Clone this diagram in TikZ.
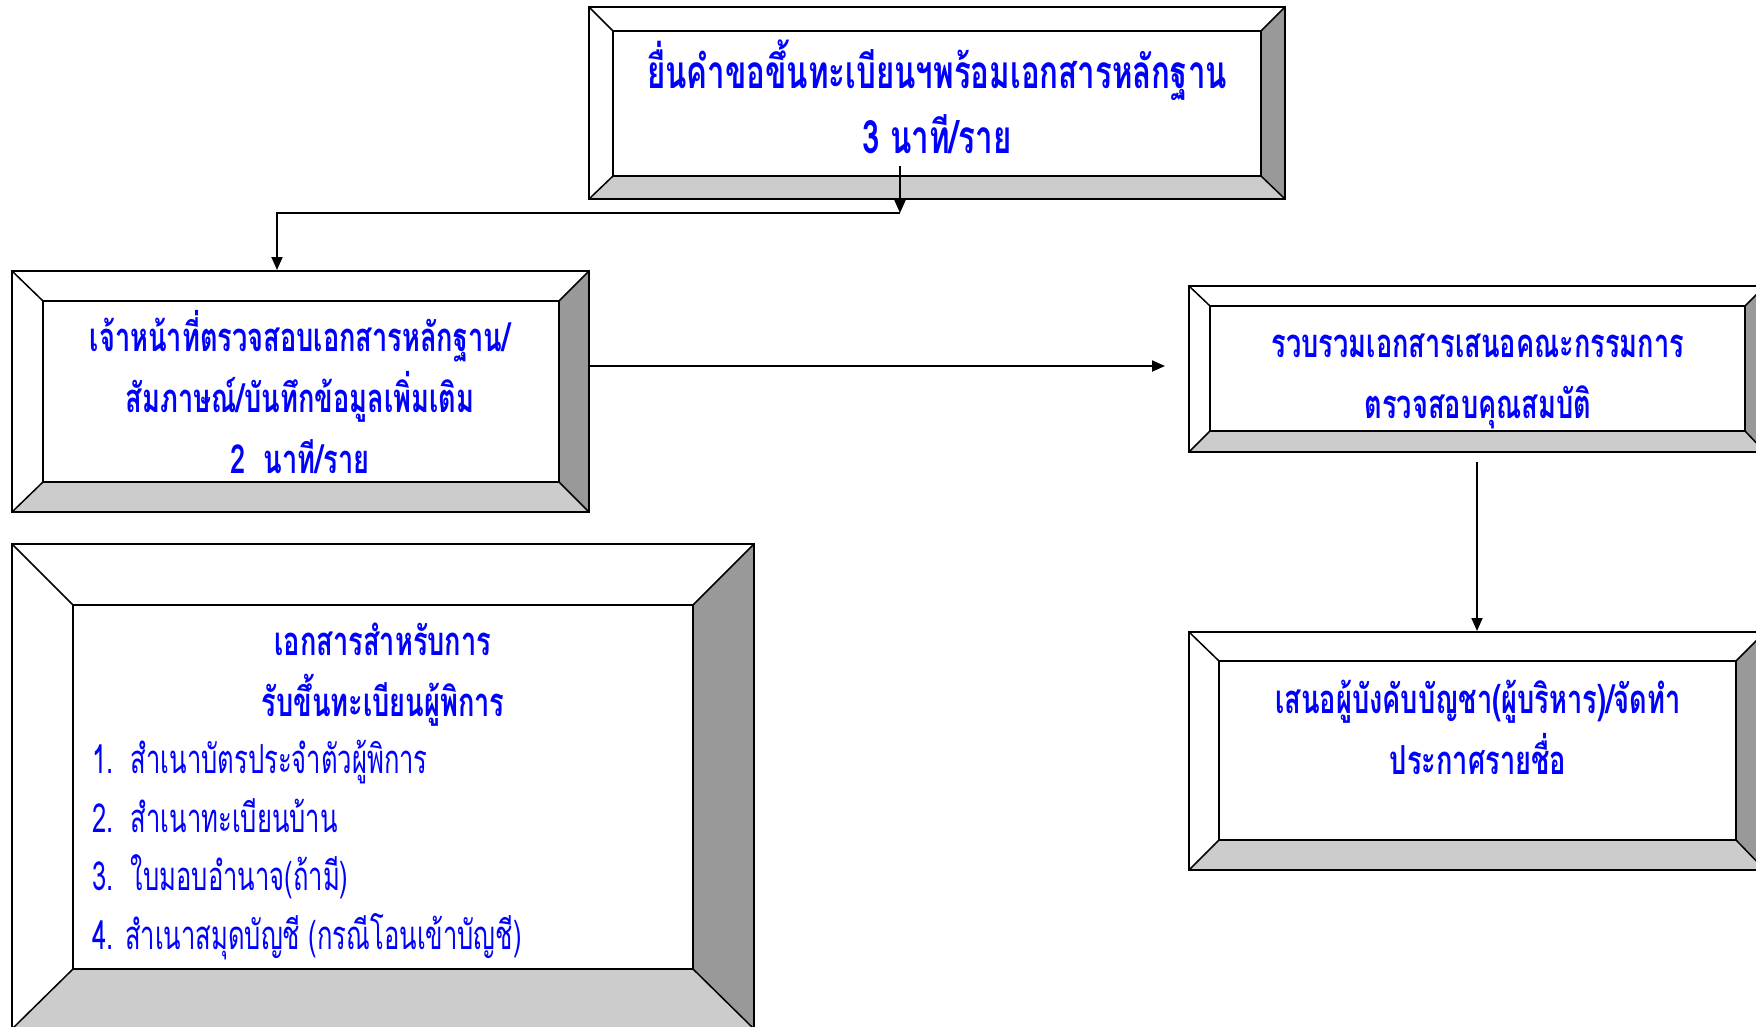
\documentclass[tikz,border=0pt]{standalone}
\usepackage{fontspec}
\newfontfamily\thai[Script=Thai,FakeStretch=0.68]{Loma}
\newfontfamily\thaireg[Script=Thai,FakeStretch=0.64]{Loma}
\usetikzlibrary{calc,arrows.meta,fit}
\definecolor{txtblue}{RGB}{0,0,255}
\definecolor{bevdark}{RGB}{153,153,153}
\definecolor{bevlight}{RGB}{204,204,204}
\tikzset{
  outerbox/.style={draw, line width=2pt, inner sep=0pt},
  innerline/.style={draw, line width=1.5pt},
  arr/.style={line width=1.8pt, -{Triangle[length=13pt,width=11pt]}},
  ttl/.style={text=txtblue, align=center, inner sep=0pt, font=\thai\bfseries\fontsize{40}{61}\selectfont},
  lst/.style={text=txtblue, align=left, inner sep=0pt, font=\thaireg\fontsize{40}{58.5}\selectfont},
}
% name, x1, y1, x2, y2, left, top, right, bottom bevel
\newcommand\bevbox[9]{%
  \pgfmathsetmacro\ixa{#2+#6}\pgfmathsetmacro\iya{#3+#7}%
  \pgfmathsetmacro\ixb{#4-#8}\pgfmathsetmacro\iyb{#5-#9}%
  \fill[white] (#2,#3) rectangle (#4,#5);
  \fill[bevdark] (#4,#3) -- (#4,#5) -- (\ixb,\iyb) -- (\ixb,\iya) -- cycle;
  \fill[bevlight] (#2,#5) -- (#4,#5) -- (\ixb,\iyb) -- (\ixa,\iyb) -- cycle;
  \draw[innerline] (\ixa,\iya) rectangle (\ixb,\iyb);
  \draw[innerline] (#2,#3) -- (\ixa,\iya) (#4,#3) -- (\ixb,\iya)
                   (#4,#5) -- (\ixb,\iyb) (#2,#5) -- (\ixa,\iyb);
  \node[outerbox, fit={(#2,#3)(#4,#5)}] (#1) {};
}
\begin{document}
\begin{tikzpicture}[x=1pt,y=-1pt]
\useasboundingbox (0,0) rectangle (1756,1027);

\bevbox{top}{589}{7}{1285}{199}{24}{24}{24}{23}
\bevbox{box2}{12}{271}{589}{512}{31}{30}{30}{30}
\bevbox{box3}{1189}{286}{1765}{452}{21}{20}{20}{21}
\bevbox{box4}{1189}{632}{1765}{870}{30}{29}{29}{30}
\bevbox{box5}{12}{544}{754}{1029}{61}{61}{61}{60}

\node[ttl, font=\thai\bfseries\fontsize{46}{65}\selectfont] (ttop) at (937,97)
  {ยื่นคำขอขึ้นทะเบียนฯพร้อมเอกสารหลักฐาน\\3 นาที/ราย};
\node[ttl] (t2) at (300,392) {เจ้าหน้าที่ตรวจสอบเอกสารหลักฐาน/\\สัมภาษณ์/บันทึกข้อมูลเพิ่มเติม\\2~~นาที/ราย};
\node[ttl] (t3) at (1478,381) {รวบรวมเอกสารเสนอคณะกรรมการ\\ตรวจสอบคุณสมบัติ};
\node[ttl] (t4) at (1478,727) {เสนอผู้บังคับบัญชา(ผู้บริหาร)/จัดทำ\\ประกาศรายชื่อ};
\node[ttl] (t5) at (383,675) {เอกสารสำหรับการ\\รับขึ้นทะเบียนผู้พิการ};
\node[lst, anchor=west] (t6) at (92,850) {1.~~สำเนาบัตรประจำตัวผู้พิการ\\2.~~สำเนาทะเบียนบ้าน\\3.~~ใบมอบอำนาจ(ถ้ามี)\\4. สำเนาสมุดบัญชี (กรณีโอนเข้าบัญชี)};

\coordinate (a0) at (900,166);
\coordinate (a1) at (900,213);
\draw[arr] (a0) -- (a1);
\draw[arr] (a1) -| ([xshift=-23.5pt]box2.north);
\coordinate (h2) at (1165,366);
\draw[arr] (box2.east |- h2) -- (h2);
\draw[arr] ([yshift=-9pt]box3.south) -- (box4.north);
\end{tikzpicture}
\end{document}
